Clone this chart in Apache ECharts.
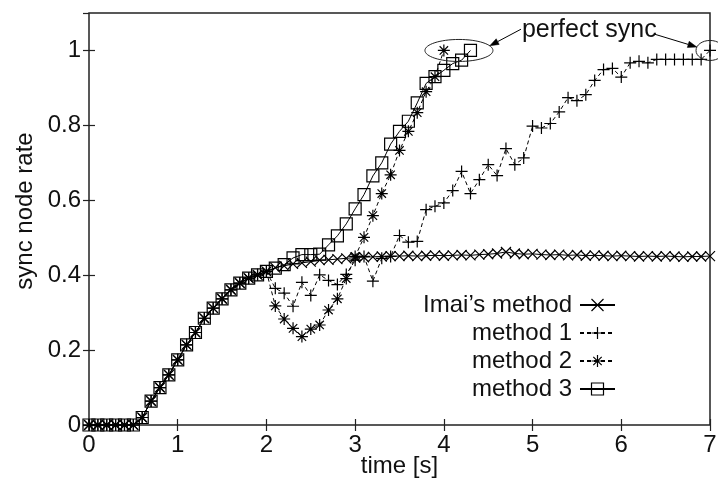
<!DOCTYPE html>
<html>
<head>
<meta charset="utf-8">
<script src="https://cdn.jsdelivr.net/npm/echarts@6/dist/echarts.min.js"></script>
<style>
  html, body { margin: 0; padding: 0; background: #fff; }
  #chart { width: 718px; height: 484px; }
</style>
</head>
<body>
<div id="chart"></div>
<script>
// Sampling instants [s]
const time = [
  0.0, 0.1, 0.2, 0.3, 0.4, 0.5, 0.6, 0.7, 0.8, 0.9,
  1.0, 1.1, 1.2, 1.3, 1.4, 1.5, 1.6, 1.7, 1.8, 1.9,
  2.0, 2.1, 2.2, 2.3, 2.4, 2.5, 2.6, 2.7, 2.8, 2.9,
  3.0, 3.1, 3.2, 3.3, 3.4, 3.5, 3.6, 3.7, 3.8, 3.9,
  4.0, 4.1, 4.2, 4.3, 4.4, 4.5, 4.6, 4.7, 4.8, 4.9,
  5.0, 5.1, 5.2, 5.3, 5.4, 5.5, 5.6, 5.7, 5.8, 5.9,
  6.0, 6.1, 6.2, 6.3, 6.4, 6.5, 6.6, 6.7, 6.8, 6.9,
  7.0
];

// Sync node rate per method
const imaiMethod = [
  0, 0, 0, 0, 0, 0, 0.02, 0.064, 0.10, 0.134,
  0.174, 0.214, 0.247, 0.285, 0.312, 0.337, 0.361, 0.379, 0.392, 0.401,
  0.41, 0.42, 0.425, 0.43, 0.433, 0.436, 0.44, 0.441, 0.443, 0.445,
  0.447, 0.448, 0.449, 0.45, 0.451, 0.451, 0.452, 0.451, 0.452, 0.453,
  0.452, 0.453, 0.454, 0.453, 0.455, 0.456, 0.458, 0.462, 0.458, 0.456,
  0.457, 0.455, 0.454, 0.455, 0.453, 0.454, 0.452, 0.453, 0.452, 0.451,
  0.452, 0.451, 0.45, 0.451, 0.45, 0.451, 0.45, 0.449, 0.45, 0.45,
  0.451
];

const method1 = [
  0, 0, 0, 0, 0, 0, 0.02, 0.064, 0.10, 0.134,
  0.174, 0.214, 0.247, 0.285, 0.312, 0.337, 0.361, 0.379, 0.392, 0.401,
  0.41, 0.365, 0.352, 0.317, 0.381, 0.346, 0.401, 0.386, 0.375, 0.402,
  0.44, 0.45, 0.384, 0.445, 0.45, 0.506, 0.488, 0.49, 0.575, 0.584,
  0.593, 0.626, 0.677, 0.618, 0.655, 0.695, 0.666, 0.738, 0.695, 0.713,
  0.798, 0.793, 0.805, 0.836, 0.874, 0.866, 0.882, 0.92, 0.949, 0.952,
  0.929, 0.967, 0.971, 0.967, 0.976, 0.976, 0.976, 0.976, 0.976, 0.976,
  1.0
];

const method2 = [
  0, 0, 0, 0, 0, 0, 0.02, 0.064, 0.10, 0.134,
  0.174, 0.214, 0.247, 0.285, 0.312, 0.337, 0.361, 0.379, 0.392, 0.401,
  0.41, 0.318, 0.283, 0.258, 0.236, 0.256, 0.267, 0.307, 0.337, 0.391,
  0.45, 0.501, 0.559, 0.618, 0.668, 0.733, 0.784, 0.834, 0.89, 0.93,
  1.0
];

const method3 = [
  0, 0, 0, 0, 0, 0, 0.02, 0.064, 0.10, 0.134,
  0.174, 0.214, 0.247, 0.285, 0.312, 0.337, 0.361, 0.379, 0.392, 0.401,
  0.41, 0.419, 0.428, 0.446, 0.455, 0.455, 0.456, 0.481, 0.505, 0.537,
  0.577, 0.615, 0.665, 0.70, 0.75, 0.784, 0.811, 0.86, 0.912, 0.93,
  0.947, 0.965, 0.974, 1.0
];

const seriesNames = ['Imai\u2019s method', 'method 1', 'method 2', 'method 3'];

// Points where every node is synchronised, circled in the plot
const perfectSyncPoints = [[4.17, 1.0], [7.0, 1.0]];
const perfectSyncLabel = 'perfect sync';

const FONT = '"Liberation Sans", Arial, Helvetica, sans-serif';
const INK = '#111';

const SYM_CROSS = 'path://M0 0L10 10M10 0L0 10';
const SYM_PLUS = 'path://M5 0V10M0 5H10';
const SYM_STAR = 'path://M5 0V10M0 5H10M1.5 1.5L8.5 8.5M8.5 1.5L1.5 8.5';
const SYM_SQUARE = 'path://M0 0H10V10H0Z';

function makeSeries(name, values, symbol, size, dashed) {
  return {
    name: name,
    type: 'line',
    xAxisIndex: 0,
    yAxisIndex: 0,
    data: values.map(function (v, i) { return [time[i], v]; }),
    symbol: symbol,
    symbolSize: size,
    lineStyle: { color: '#000', width: 1, type: dashed ? [4, 3] : 'solid' },
    itemStyle: { color: 'transparent', borderColor: '#000', borderWidth: 1.2 },
    emphasis: { disabled: true },
    clip: false
  };
}

const chart = echarts.init(document.getElementById('chart'), null, { renderer: 'canvas' });

const baseValueAxis = {
  type: 'value',
  splitLine: { show: false },
  axisLine: { show: false },
  axisTick: { show: true, inside: true, length: 6, lineStyle: { color: '#222', width: 1.2 } }
};

const option = {
  animation: false,
  backgroundColor: '#fff',
  textStyle: { fontFamily: FONT, color: INK },
  grid: {
    left: 89, right: 8, top: 13, bottom: 59,
    show: true, borderColor: '#222', borderWidth: 1.5,
    containLabel: false, outerBoundsMode: 'none'
  },
  xAxis: [
    Object.assign({}, baseValueAxis, {
      position: 'bottom', min: 0, max: 7, interval: 1,
      axisLabel: { fontSize: 24, color: INK, fontFamily: FONT, margin: 8 },
      name: 'time [s]', nameLocation: 'middle', nameGap: 29, nameMoveOverlap: false,
      nameTextStyle: { fontSize: 24, color: INK, fontFamily: FONT }
    }),
    Object.assign({}, baseValueAxis, {
      position: 'top', min: 0, max: 7, interval: 1,
      axisLabel: { show: false }
    })
  ],
  yAxis: [
    Object.assign({}, baseValueAxis, {
      position: 'left', min: 0, max: 1.1, interval: 0.2,
      axisLabel: { fontSize: 24, color: INK, fontFamily: FONT, margin: 8, showMaxLabel: false },
      name: 'sync node rate', nameLocation: 'middle', nameGap: 52, nameMoveOverlap: false,
      nameTextStyle: { fontSize: 24, color: INK, fontFamily: FONT, padding: [0, 0, 0, 16] }
    }),
    Object.assign({}, baseValueAxis, {
      position: 'right', min: 0, max: 1.1, interval: 0.2,
      axisLabel: { show: false }
    })
  ],
  legend: {
    data: seriesNames,
    orient: 'vertical',
    align: 'right',
    right: 97,
    top: 288,
    itemWidth: 35,
    itemHeight: 15,
    itemGap: 4,
    selectedMode: false,
    textStyle: { fontSize: 24, color: INK, fontFamily: FONT, padding: [0, 3, 0, 0] },
    itemStyle: { color: 'transparent', borderColor: '#000', borderWidth: 1.2 }
  },
  series: [
    makeSeries(seriesNames[0], imaiMethod, SYM_CROSS, 10, false),
    makeSeries(seriesNames[1], method1, SYM_PLUS, 12, true),
    makeSeries(seriesNames[2], method2, SYM_STAR, 12, true),
    makeSeries(seriesNames[3], method3, SYM_SQUARE, 12, false)
  ]
};

chart.setOption(option);

// Annotation: ellipses around the perfect-sync points, a label and two arrows
(function drawAnnotation() {
  const toPx = function (p) { return chart.convertToPixel({ seriesIndex: 0 }, p); };
  const ellipseSize = [[34, 11], [14, 10]];
  const ellipses = perfectSyncPoints.map(function (p, i) {
    const c = toPx(p);
    return { c: c, rx: ellipseSize[i][0], ry: ellipseSize[i][1] };
  });

  const labelSize = 25;
  const labelPos = toPx([5.64, 1.054]);
  const ctx = document.createElement('canvas').getContext('2d');
  ctx.font = labelSize + 'px ' + FONT;
  const labelW = ctx.measureText(perfectSyncLabel).width;
  const labelLeft = labelPos[0] - labelW / 2;
  const labelRight = labelPos[0] + labelW / 2;

  function onEllipse(e, deg) {
    const a = deg * Math.PI / 180;
    return [e.c[0] + e.rx * Math.cos(a), e.c[1] - e.ry * Math.sin(a)];
  }

  function arrow(from, to) {
    const dx = to[0] - from[0], dy = to[1] - from[1];
    const len = Math.sqrt(dx * dx + dy * dy);
    const ux = dx / len, uy = dy / len;
    const headL = 9, headW = 3.2;
    const bx = to[0] - ux * headL, by = to[1] - uy * headL;
    return [
      { type: 'line', shape: { x1: from[0], y1: from[1], x2: bx, y2: by },
        style: { stroke: '#000', lineWidth: 1 }, z: 100 },
      { type: 'polygon', shape: { points: [
          [to[0], to[1]],
          [bx - uy * headW, by + ux * headW],
          [bx + uy * headW, by - ux * headW]
        ] }, style: { fill: '#000', stroke: '#000', lineWidth: 0.5 }, z: 100 }
    ];
  }

  const graphics = [];
  ellipses.forEach(function (e) {
    graphics.push({
      type: 'ellipse',
      shape: { cx: e.c[0], cy: e.c[1], rx: e.rx, ry: e.ry },
      style: { fill: null, stroke: '#222', lineWidth: 1 },
      z: 100
    });
  });
  graphics.push({
    type: 'text',
    x: labelPos[0], y: labelPos[1],
    style: { text: perfectSyncLabel, fontSize: labelSize, fontFamily: FONT, fill: INK,
             align: 'center', verticalAlign: 'middle' },
    z: 100
  });
  arrow([labelLeft - 1, labelPos[1] - 1], onEllipse(ellipses[0], 25)).forEach(function (g) { graphics.push(g); });
  arrow([labelRight - 2, labelPos[1] + 4], onEllipse(ellipses[1], 160)).forEach(function (g) { graphics.push(g); });

  chart.setOption({ graphic: graphics });
})();
</script>
</body>
</html>
